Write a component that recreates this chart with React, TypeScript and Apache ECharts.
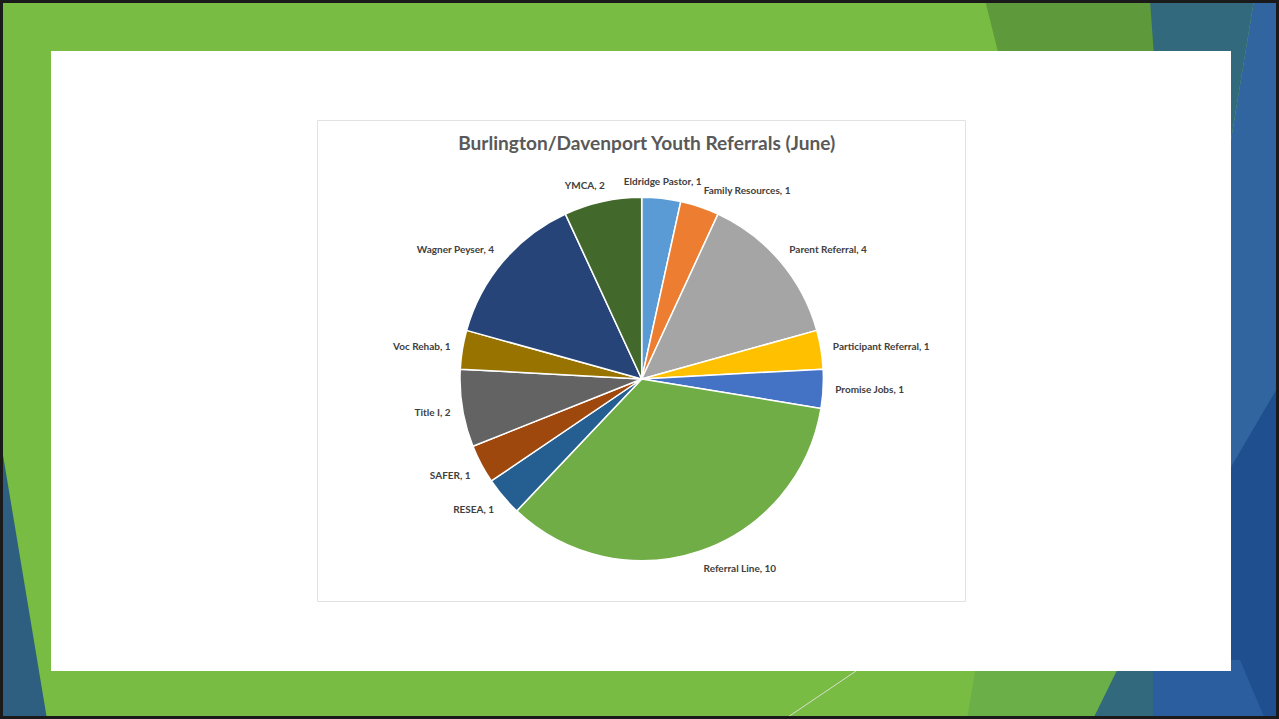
import React, { useEffect, useRef } from "react";
import * as echarts from "echarts";

const categories = [
  "Eldridge Pastor",
  "Family Resources",
  "Parent Referral",
  "Participant Referral",
  "Promise Jobs",
  "Referral Line",
  "RESEA",
  "SAFER",
  "Title I",
  "Voc Rehab",
  "Wagner Peyser",
  "YMCA",
];
const values = [1, 1, 4, 1, 1, 10, 1, 1, 2, 1, 4, 2];
const colors = [
  "#5B9BD5",
  "#ED7D31",
  "#A5A5A5",
  "#FFC000",
  "#4472C4",
  "#70AD47",
  "#255E91",
  "#9E480E",
  "#636363",
  "#997300",
  "#264478",
  "#43682B",
];
const title = "Burlington/Davenport Youth Referrals (June)";

const W = 1279;
const H = 719;
const CX = 641.7;
const CY = 379;
const R = 181.7;
const LABEL_GAP = 12;
const FONT = "Lato, 'Liberation Sans', sans-serif";

function shape(s: number) {
  const a = Math.abs(s);
  const v = Math.max(0, Math.min(1, (a - 0.12) * 8));
  return Math.sign(s) * v;
}

export default function App() {
  const ref = useRef<HTMLDivElement>(null);
  useEffect(() => {
    if (!ref.current) return;
    const chart = echarts.init(ref.current, undefined, { renderer: "svg" });
    const total = values.reduce((a, b) => a + b, 0);
    const mids: number[] = [];
    let cum = 0;
    values.forEach((v) => {
      mids.push(((cum + v / 2) / total) * Math.PI * 2);
      cum += v;
    });

    const poly = (points: number[][], fill: string, z = 0) => ({
      type: "polygon",
      silent: true,
      z,
      shape: { points },
      style: { fill },
    });

    chart.setOption({
      animation: false,
      backgroundColor: "#78BC43",
      graphic: [
        poly([[985, 0], [1152, 0], [1162, 80], [1005, 80]], "#5E993B"),
        poly([[1150, 0], [1254, 0], [1231, 140], [1160, 140]], "#33697C"),
        poly([[1254, 0], [1279, 0], [1279, 719], [1231, 719], [1231, 140]], "#3165A0"),
        poly([[1279, 385], [1231, 467], [1231, 719], [1279, 719]], "#1F4F8E"),
        poly([[977, 660], [1122, 660], [1093, 719], [967, 719]], "#6AAF48"),
        poly([[1122, 660], [1153, 660], [1153, 719], [1093, 719]], "#33697C"),
        poly([[1153, 660], [1240, 660], [1265, 719], [1153, 719]], "#2B5E9F"),
        poly([[0, 437], [0, 719], [47, 719]], "#2F5F80"),
        {
          type: "line",
          silent: true,
          shape: { x1: 785, y1: 719, x2: 856, y2: 671 },
          style: { stroke: "#D8DED0", lineWidth: 1 },
        },
        {
          type: "rect",
          silent: true,
          shape: { x: 51, y: 51, width: 1180, height: 620 },
          style: { fill: "#FFFFFF" },
        },
        {
          type: "rect",
          silent: true,
          shape: { x: 317.5, y: 120.5, width: 648, height: 481 },
          style: { fill: "#FFFFFF", stroke: "#E2E2E2", lineWidth: 1 },
        },
        {
          type: "rect",
          silent: true,
          z: 100,
          shape: { x: 1.5, y: 1.5, width: W - 3, height: H - 3 },
          style: { fill: "none", stroke: "#1A1A1A", lineWidth: 3 },
        },
      ],
      title: {
        text: title,
        left: CX,
        top: 128,
        textAlign: "center",
        textStyle: {
          fontFamily: FONT,
          fontSize: 19.1,
          fontWeight: "bold",
          color: "#595959",
        },
      },
      series: [
        {
          type: "pie",
          center: [CX, CY],
          radius: R,
          startAngle: 90,
          clockwise: true,
          avoidLabelOverlap: false,
          data: categories.map((name, i) => ({
            name,
            value: values[i],
            itemStyle: { color: colors[i] },
          })),
          itemStyle: { borderColor: "#FFFFFF", borderWidth: 1.5 },
          label: {
            show: true,
            position: "outside",
            formatter: "{b}, {c}",
            fontFamily: FONT,
            fontSize: 10,
            fontWeight: "bold",
            color: "#404040",
          },
          labelLine: { show: false },
          labelLayout: (params: any) => {
            const t = mids[params.dataIndex];
            const s = Math.sin(t);
            const c = -Math.cos(t);
            const ax = CX + (R + LABEL_GAP) * s;
            const ay = CY + (R + LABEL_GAP) * c;
            const w = params.labelRect.width;
            const h = params.labelRect.height;
            return {
              x: ax + (shape(s) * w) / 2,
              y: ay + (shape(c) * h) / 2,
              align: "center",
              verticalAlign: "middle",
            };
          },
          emphasis: { disabled: true },
        },
      ],
    });
    return () => chart.dispose();
  }, []);
  return (
    <div
      ref={ref}
      style={{ position: "fixed", left: 0, top: 0, width: W, height: H }}
    />
  );
}
